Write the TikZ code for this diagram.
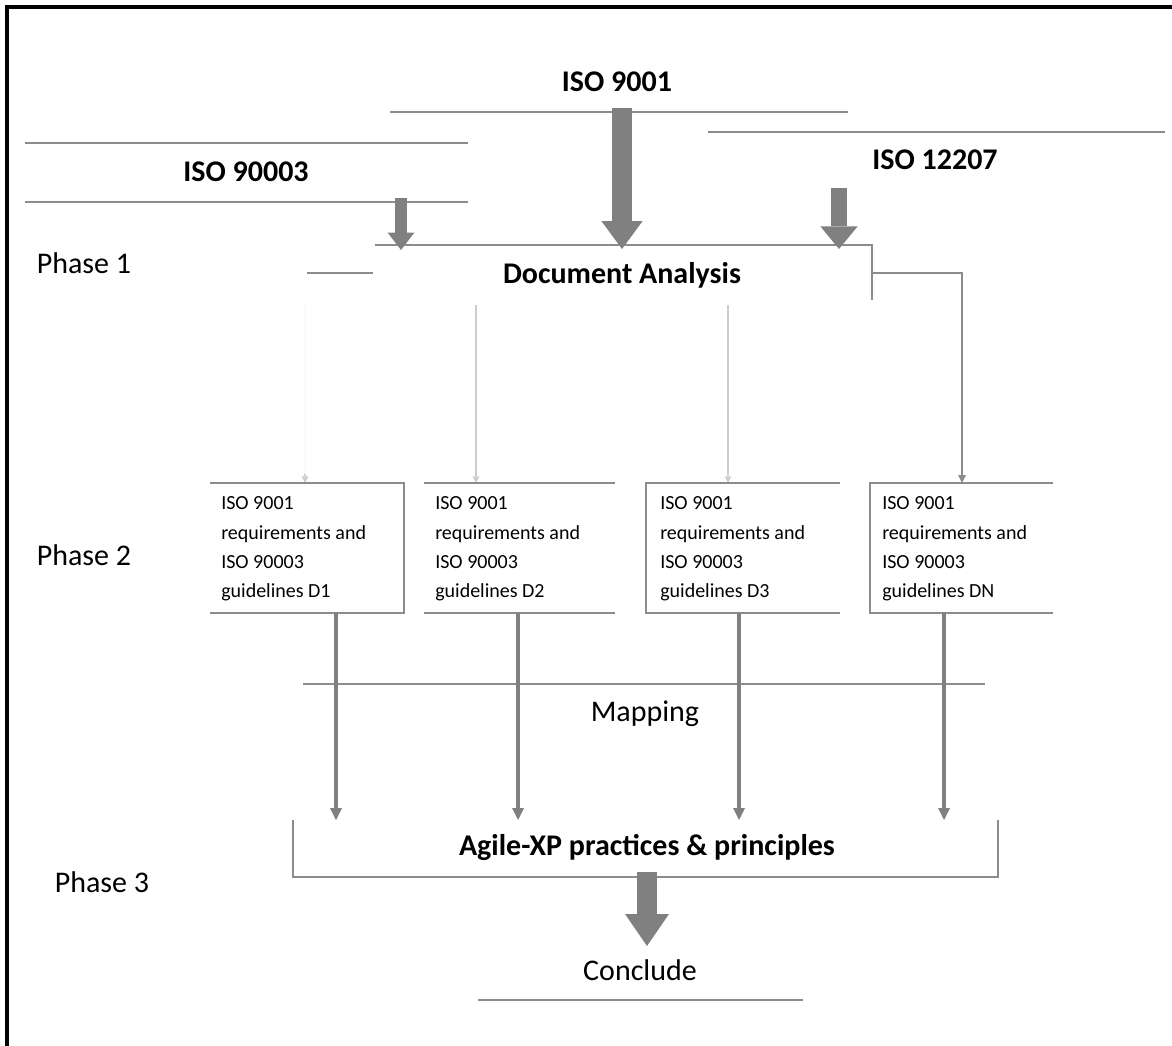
\documentclass[tikz,border=0pt]{standalone}
\usepackage{fontspec}
\setmainfont{Carlito}
\usetikzlibrary{arrows.meta}
\definecolor{agray}{RGB}{128,128,128}
\definecolor{lgray}{RGB}{140,140,140}
\definecolor{fgray}{RGB}{205,205,205}
\definecolor{vfgray}{RGB}{250,250,250}
\begin{document}
\begin{tikzpicture}[x=0.75pt,y=-0.75pt,
  big/.style={font=\fontsize{22.5}{27}\selectfont\bfseries, inner sep=0pt},
  reg/.style={font=\fontsize{22.5}{27}\selectfont, inner sep=0pt},
  boxtxt/.style={font=\fontsize{15}{22}\selectfont, align=left, anchor=west, inner sep=0pt},
  ln/.style={draw=lgray, line width=1.7pt},
  thinarr/.style={draw=fgray, line width=0.8pt, -{Triangle[width=5pt,length=5pt,line width=0pt]}},
  medarr/.style={draw=lgray, line width=1.5pt, -{Triangle[width=6pt,length=6pt,line width=0pt]}},
  downarr/.style={draw=agray, line width=3pt, -{Triangle[width=9pt,length=9pt,line width=0pt]}}
]
\useasboundingbox (0,0) rectangle (1172,1046);
\fill[white] (0,0) rectangle (1172,1046);
% frame
\draw[line width=3.5pt] (7,1046) -- (7,7) -- (1172,7);

% texts
\node[big] (iso9001) at (617,82) {ISO 9001};
\node[big] (iso90003) at (246,172) {ISO 90003};
\node[big] (iso12207) at (935,160) {ISO 12207};
\node[big] (da) at (622,275) {Document Analysis};
\node[reg] (ph1) at (84,263) {Phase 1};
\node[reg] (ph2) at (84,555) {Phase 2};
\node[reg] (ph3) at (102,882) {Phase 3};
\node[reg] (map) at (645,714) {Mapping};
\node[big] (agile) at (647,847) {Agile-XP practices \& principles};
\node[reg] (concl) at (640,970) {Conclude};

\node[boxtxt] (b1) at (221,549) {ISO 9001\\requirements and\\ISO 90003\\guidelines D1};
\node[boxtxt] (b2) at (435,549) {ISO 9001\\requirements and\\ISO 90003\\guidelines D2};
\node[boxtxt] (b3) at (660,549) {ISO 9001\\requirements and\\ISO 90003\\guidelines D3};
\node[boxtxt] (b4) at (882,549) {ISO 9001\\requirements and\\ISO 90003\\guidelines DN};

% source lines
\draw[ln] (390,112) -- (848,112);
\draw[ln] (25,143) -- (468,143);
\draw[ln] (25,202) -- (468,202);
\draw[ln] (708,132) -- (1165,132);

% Document Analysis frame
\draw[ln] (375,245) -- (872,245) -- (872,300);
\draw[ln] (307,273) -- (373,273);

% big block arrows into Document Analysis
\coordinate (s1) at (622,108); \coordinate (e1) at (622,249);
\coordinate (s2) at (401,198); \coordinate (e2) at (401,250);
\coordinate (s3) at (839,188); \coordinate (e3) at (839,249);
\draw[draw=agray, line width=15pt, -{Triangle[width=31pt,length=21pt,line width=0pt]}] (s1) -- (e1);
\draw[draw=agray, line width=9pt, -{Triangle[width=20pt,length=13pt,line width=0pt]}] (s2) -- (e2);
\draw[draw=agray, line width=12pt, -{Triangle[width=28pt,length=17pt,line width=0pt]}] (s3) -- (e3);

% connectors Document Analysis -> boxes
\coordinate (t1) at (305,483);
\coordinate (t1s) at (305,474);
\coordinate (t2) at (476,483);
\coordinate (t3) at (728,483);
\coordinate (t4) at (962,483);
\draw[draw=vfgray, line width=0.8pt] (305,305) -- (t1s);
\draw[thinarr] (t1s) -- (t1);
\draw[thinarr] (476,305) -- (t2);
\draw[thinarr] (728,305) -- (t3);
\draw[medarr] (872,273) -| (t4);

% boxes
\draw[ln] (210,483) -- (404,483) -- (404,613) -- (210,613);
\draw[ln] (424,483) -- (615,483);
\draw[ln] (424,613) -- (615,613);
\draw[ln] (840,483) -- (646,483) -- (646,613) -- (840,613);
\draw[ln] (1053,483) -- (870,483) -- (870,613) -- (1053,613);

% mapping line
\draw[ln] (303,684) -- (985,684);

% down arrows to Agile
\coordinate (d1) at (336,820); \coordinate (d2) at (518,820);
\coordinate (d3) at (739,820); \coordinate (d4) at (944,820);
\draw[downarr] (336,613) -- (d1);
\draw[downarr] (518,613) -- (d2);
\draw[downarr] (739,613) -- (d3);
\draw[downarr] (944,613) -- (d4);

% Agile frame
\draw[ln] (293,820) -- (293,877) -- (998,877) -- (998,820);

% conclude arrow
\coordinate (s4) at (647,872); \coordinate (e4) at (647,946);
\draw[draw=agray, line width=15pt, -{Triangle[width=33pt,length=24pt,line width=0pt]}] (s4) -- (e4);

% conclude line
\draw[ln] (478,1000) -- (803,1000);
\end{tikzpicture}
\end{document}
